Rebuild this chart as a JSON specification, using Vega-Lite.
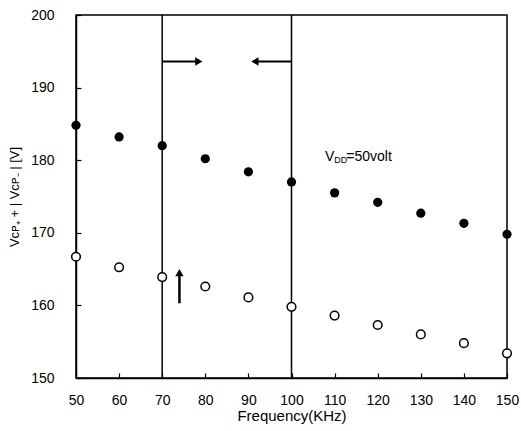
{
  "$schema": "https://vega.github.io/schema/vega-lite/v6.json",
  "width": 431,
  "height": 363,
  "autosize": "none",
  "padding": {"left": 76, "top": 15, "right": 14, "bottom": 53},
  "background": "white",
  "config": {
    "font": "Liberation Sans",
    "view": {"stroke": "black", "strokeWidth": 1.5},
    "axis": {
      "grid": false,
      "domainColor": "black",
      "domainWidth": 1.5,
      "tickColor": "black",
      "tickSize": -5,
      "tickWidth": 1.2,
      "labelColor": "black",
      "labelFontSize": 14,
      "labelFlush": false,
      "labelOverlap": false,
      "titleColor": "black",
      "titleFontSize": 13,
      "titleFontWeight": "normal"
    }
  },
  "datasets": {
    "pts": [
      {"freq": 50, "filled": 184.8, "open": 166.7},
      {"freq": 60, "filled": 183.2, "open": 165.25},
      {"freq": 70, "filled": 182.0, "open": 163.9},
      {"freq": 80, "filled": 180.2, "open": 162.6},
      {"freq": 90, "filled": 178.4, "open": 161.1},
      {"freq": 100, "filled": 177.0, "open": 159.8},
      {"freq": 110, "filled": 175.5, "open": 158.6},
      {"freq": 120, "filled": 174.2, "open": 157.3},
      {"freq": 130, "filled": 172.7, "open": 156.0},
      {"freq": 140, "filled": 171.3, "open": 154.8},
      {"freq": 150, "filled": 169.8, "open": 153.4}
    ]
  },
  "layer": [
    {
      "data": {"values": [{"f": 70}, {"f": 100}]},
      "mark": {"type": "rule", "color": "black", "strokeWidth": 1.5},
      "encoding": {
        "x": {"field": "f", "type": "quantitative", "scale": {"domain": [50, 150], "nice": false},
              "axis": {"values": [50,60,70,80,90,100,110,120,130,140,150], "title": "Frequency(KHz)", "titleFontSize": 15, "labelPadding": 20, "titlePadding": 1}}
      }
    },
    {
      "data": {"name": "pts"},
      "mark": {"type": "point", "filled": true, "color": "black", "size": 85, "opacity": 1},
      "encoding": {
        "x": {"field": "freq", "type": "quantitative"},
        "y": {"field": "filled", "type": "quantitative", "scale": {"domain": [150, 200], "nice": false},
              "axis": {"values": [150,160,170,180,190,200], "title": "Vᴄᴘ₊ + | Vᴄᴘ₋ | [V]", "labelPadding": 27, "titlePadding": 9}}
      }
    },
    {
      "data": {"name": "pts"},
      "mark": {"type": "point", "filled": false, "color": "black", "fill": "white", "size": 75, "strokeWidth": 1.5, "opacity": 1},
      "encoding": {
        "x": {"field": "freq", "type": "quantitative"},
        "y": {"field": "open", "type": "quantitative"}
      }
    },
    {
      "data": {"values": [{"x1": 70, "x2": 78.5, "y": 193.6}, {"x1": 91.5, "x2": 100, "y": 193.6}]},
      "mark": {"type": "rule", "color": "black", "strokeWidth": 2},
      "encoding": {
        "x": {"field": "x1", "type": "quantitative"},
        "x2": {"field": "x2"},
        "y": {"field": "y", "type": "quantitative"}
      }
    },
    {
      "data": {"values": [{"x": 78.5, "y": 193.6, "shape": "triangle-right"}, {"x": 91.5, "y": 193.6, "shape": "triangle-left"}, {"x": 74.0, "y": 164.5, "shape": "triangle-up"}]},
      "mark": {"type": "point", "filled": true, "color": "black", "size": 70, "opacity": 1},
      "encoding": {
        "x": {"field": "x", "type": "quantitative"},
        "y": {"field": "y", "type": "quantitative"},
        "shape": {"field": "shape", "type": "nominal", "scale": null}
      }
    },
    {
      "data": {"values": [{"x": 74.0, "y": 160.3, "y2": 164.5}]},
      "mark": {"type": "rule", "color": "black", "strokeWidth": 2.5},
      "encoding": {
        "x": {"field": "x", "type": "quantitative"},
        "y": {"field": "y", "type": "quantitative"},
        "y2": {"field": "y2"}
      }
    },
    {
      "data": {"values": [{"x": 107.8, "y": 180.5, "t": "V"}, {"x": 112.7, "y": 180.5, "t": "=50volt"}]},
      "mark": {"type": "text", "align": "left", "baseline": "middle", "fontSize": 14, "color": "black"},
      "encoding": {
        "x": {"field": "x", "type": "quantitative"},
        "y": {"field": "y", "type": "quantitative"},
        "text": {"field": "t"}
      }
    },
    {
      "data": {"values": [{"x": 109.9, "y": 180.05, "t": "DD"}]},
      "mark": {"type": "text", "align": "left", "baseline": "middle", "fontSize": 9, "color": "black"},
      "encoding": {
        "x": {"field": "x", "type": "quantitative"},
        "y": {"field": "y", "type": "quantitative"},
        "text": {"field": "t"}
      }
    }
  ]
}
